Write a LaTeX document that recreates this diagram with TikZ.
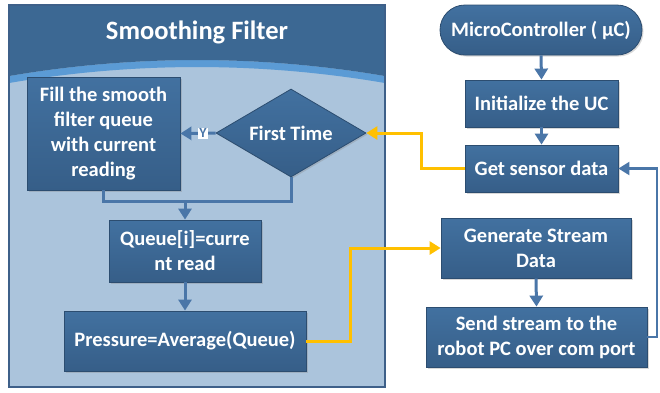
\documentclass[tikz,border=0pt]{standalone}
\usepackage{fontspec}
\setmainfont{Carlito}
\usetikzlibrary{arrows.meta,shapes.geometric,shapes.misc,shadows}
\definecolor{boxA}{HTML}{4271A0}
\definecolor{boxB}{HTML}{365E88}
\definecolor{boxline}{HTML}{2C4D70}
\definecolor{body}{HTML}{ABC4DC}
\definecolor{head}{HTML}{3C6893}
\definecolor{band}{HTML}{5B9BD5}
\definecolor{frame}{HTML}{3E6089}
\definecolor{blueline}{HTML}{4A76A8}
\definecolor{gold}{HTML}{FFC000}
\tikzset{
  box/.style={rectangle, draw=boxline, line width=0.8pt, top color=boxA, bottom color=boxB,
    text=white, font=\fontsize{20.5}{25}\selectfont\bfseries, align=center, inner sep=1pt,
    drop shadow={shadow xshift=1.5pt, shadow yshift=-1.5pt, opacity=0.3}},
  bl/.style={draw=blueline, line width=3pt},
  gl/.style={draw=gold, line width=3pt},
  tip/.style={-{Triangle[width=13pt,length=11pt]}}
}
\begin{document}
\begin{tikzpicture}[x=1pt,y=-1pt]
\useasboundingbox (0,0) rectangle (660,392);
\fill[white] (0,0) rectangle (660,392);
% container
\fill[body] (9,5) rectangle (385,387);
\fill[band] (9,83) .. controls (134,61.7) and (260,61.7) .. (385,83) -- (385,76)
  .. controls (260,54.7) and (134,54.7) .. (9,76) -- cycle;
\fill[head] (9,5) -- (385,5) -- (385,76) .. controls (260,54.7) and (134,54.7) .. (9,76) -- cycle;
\draw[frame, line width=1.2pt] (9,5) rectangle (385,387);
\node[text=white, font=\fontsize{26.5}{30}\selectfont\bfseries] (title) at (197,32) {Smoothing Filter};
% left nodes
\node[box, minimum width=153pt, minimum height=113pt] (fill) at (103.5,133.5)
  {Fill the smooth\\filter queue\\with current\\reading};
\node[box, shape=diamond, aspect=1.7, minimum width=150pt, minimum height=88pt, inner sep=0pt] (dia) at (291,133) {First Time};
\node[box, minimum width=152pt, minimum height=62pt] (queue) at (185,251) {Queue[i]=curre\\nt read};
\node[box, minimum width=242pt, minimum height=60pt] (press) at (185,341) {Pressure=Average(Queue)};
% right nodes
\node[box, rounded rectangle, minimum width=204pt, minimum height=50pt] (mc) at (541,30) {MicroController ( µC)};
\node[box, minimum width=153pt, minimum height=47pt] (init) at (541.5,103.5) {Initialize the UC};
\node[box, minimum width=153pt, minimum height=47pt] (get) at (541.5,168.5) {Get sensor data};
\node[box, minimum width=190pt, minimum height=60pt] (gen) at (536,248) {Generate Stream\\Data};
\node[box, minimum width=221pt, minimum height=60pt] (send) at (536.5,337) {Send stream to the\\robot PC over com port};
% connectors
\coordinate (j) at (185,201);
\path[bl, tip] (dia.west) -- node[fill=white, inner sep=1pt, text=blueline, font=\fontsize{14}{15}\selectfont\bfseries, pos=0.36] (y) {Y} (fill.east);
\path[bl] (fill.south) |- (j);
\path[bl] (dia.south) |- (j);
\path[bl, tip] (j) -- (queue.north);
\path[bl, tip] (queue.south) -- (press.north);
\path[bl, tip] (mc.south) -- (init.north);
\path[bl, tip] (init.south) -- (get.north);
\path[bl, tip] (gen.south) -- (send.north);
\coordinate (r) at (657,337);
\path[bl, line width=2.2pt, tip] (send.east) -- (r) |- (get.east);
\coordinate (g1) at (350,341);
\path[gl, tip] (press.east) -- (g1) |- (gen.west);
\coordinate (g2) at (421,168.5);
\path[gl, tip] (get.west) -- (g2) |- (dia.east);
\end{tikzpicture}
\end{document}
